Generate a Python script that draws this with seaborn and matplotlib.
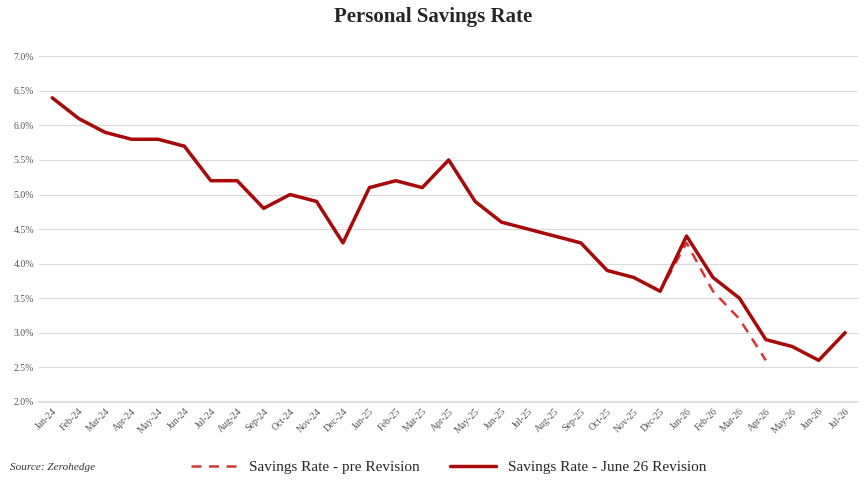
import matplotlib
matplotlib.use("Agg")
import matplotlib.pyplot as plt
import seaborn as sns
import numpy as np
import pandas as pd
from matplotlib.ticker import FuncFormatter

months = ["Jan-24","Feb-24","Mar-24","Apr-24","May-24","Jun-24","Jul-24","Aug-24","Sep-24","Oct-24","Nov-24","Dec-24",
          "Jan-25","Feb-25","Mar-25","Apr-25","May-25","Jun-25","Jul-25","Aug-25","Sep-25","Oct-25","Nov-25","Dec-25",
          "Jan-26","Feb-26","Mar-26","Apr-26","May-26","Jun-26","Jul-26"]
revised = [6.4,6.1,5.9,5.8,5.8,5.7,5.2,5.2,4.8,5.0,4.9,4.3,5.1,5.2,5.1,5.5,4.9,4.6,4.5,4.4,4.3,3.9,3.8,3.6,
           4.4,3.8,3.5,2.9,2.8,2.6,3.0]
pre = [6.4,6.1,5.9,5.8,5.8,5.7,5.2,5.2,4.8,5.0,4.9,4.3,5.1,5.2,5.1,5.5,4.9,4.6,4.5,4.4,4.3,3.9,3.8,3.6,
       4.3,3.6,3.2,2.6,np.nan,np.nan,np.nan]

sns.set_theme(style="whitegrid")
plt.rcParams['font.family'] = ['Liberation Serif', 'DejaVu Serif']

df = pd.DataFrame({"x": np.arange(len(months)), "pre": pre, "rev": revised})
fig, ax = plt.subplots(figsize=(8.67, 4.90), dpi=100)
fig.subplots_adjust(left=0.045, right=0.99, top=0.885, bottom=0.18)

sns.lineplot(data=df, x="x", y="pre", ax=ax, color="#d43535", lw=1.8, linestyle=(0, (4, 3)),
             label="Savings Rate - pre Revision")
sns.lineplot(data=df, x="x", y="rev", ax=ax, color="#a80a0a", lw=2.5,
             label="Savings Rate - June 26 Revision")

ax.set_ylim(2.0, 7.0)
ax.set_yticks(np.arange(2.0, 7.01, 0.5))
ax.yaxis.set_major_formatter(FuncFormatter(lambda v, p: f"{v:.1f}%"))
ax.set_xlim(-0.5, len(months) - 0.5)
ax.set_xticks(df["x"])
ax.set_xticklabels(months, rotation=45, ha="right", rotation_mode="anchor")
ax.tick_params(axis="both", labelsize=7, colors="#555555", length=0)
ax.grid(axis="x", visible=False)
ax.grid(axis="y", color="#d9d9d9", lw=0.8)
for s in ["top", "right", "left"]:
    ax.spines[s].set_visible(False)
ax.spines["bottom"].set_color("#d9d9d9")
ax.set_xlabel("")
ax.set_ylabel("")
fig.text(0.5, 0.965, "Personal Savings Rate", fontsize=15, fontweight="bold", ha="center", va="center")
ax.legend(loc="upper center", bbox_to_anchor=(0.5, -0.13), ncol=2, frameon=False, fontsize=11,
          handlelength=3)
fig.text(0.012, 0.04, "Source: Zerohedge", fontsize=8, style="italic", color="#333333")
fig.savefig("out.png", dpi=100)
